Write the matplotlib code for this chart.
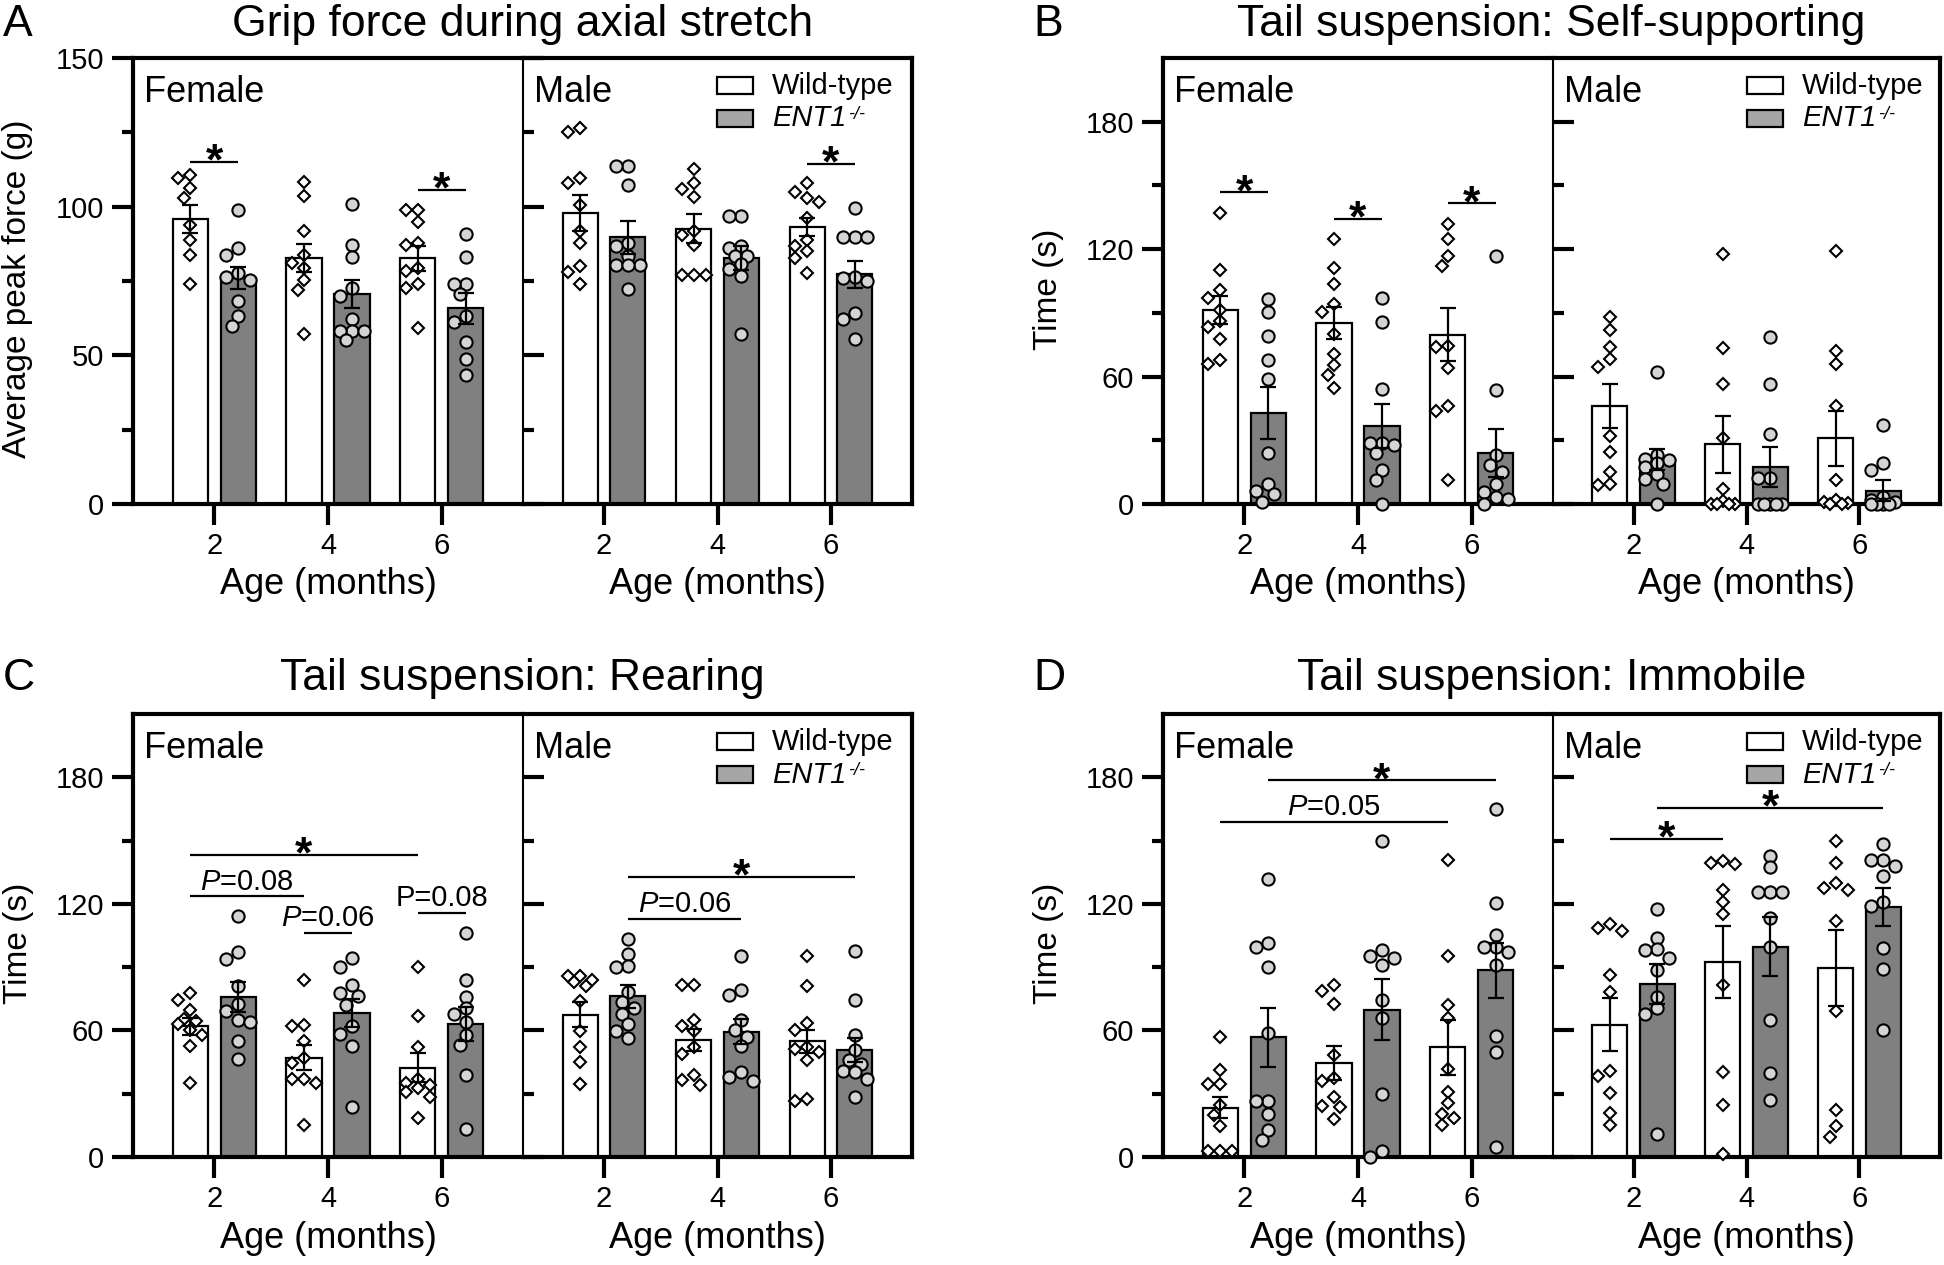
import numpy as np
import matplotlib
matplotlib.use('Agg')
import matplotlib.pyplot as plt
from matplotlib.patches import Rectangle

plt.rcParams['font.family'] = ['Liberation Sans', 'DejaVu Sans']
plt.rcParams['mathtext.fontset'] = 'custom'
plt.rcParams['mathtext.rm'] = 'Liberation Sans'
plt.rcParams['mathtext.it'] = 'Liberation Sans:italic'
plt.rcParams['mathtext.bf'] = 'Liberation Sans:bold'

# ---------------- data ----------------
ages = [2, 4, 6]
age_labels = ['2', '4', '6']
genotypes = ['Wild-type', 'ENT1']
sexes = ['Female', 'Male']

# Panel A: grip force (g)
A_F_WT_pts = [[110.6, 109.7, 106.4, 102.8, 93.9, 88.9, 83.7, 73.9],
              [108.3, 103.6, 91.9, 83.9, 81.1, 79.4, 75.2, 71.9, 57.2],
              [98.9, 98.9, 94.8, 87.8, 87.0, 79.4, 78.3, 73.9, 72.8, 59.2]]
A_F_WT_mean = [95.9, 82.6, 82.6]
A_F_WT_sem = [4.6, 4.7, 4.2]
A_F_KO_pts = [[98.9, 86.1, 83.9, 77.8, 76.3, 75.2, 68.3, 63.3, 60.0],
              [100.8, 87.0, 83.0, 72.8, 70.0, 62.2, 58.3, 58.3, 58.3, 55.2],
              [90.9, 83.0, 73.9, 73.9, 70.6, 63.3, 61.1, 54.4, 48.6, 43.3]]
A_F_KO_mean = [75.9, 70.6, 65.9]
A_F_KO_sem = [3.7, 4.6, 5.2]
A_M_WT_pts = [[126.3, 125.2, 109.7, 107.8, 100.6, 91.7, 87.8, 80.0, 78.1, 74.1],
              [112.6, 107.8, 105.9, 103.3, 91.7, 90.6, 87.2, 77.0, 77.0, 77.0],
              [107.8, 104.8, 102.8, 101.7, 96.1, 88.9, 86.7, 85.0, 82.8, 77.8]]
A_M_WT_mean = [97.8, 92.6, 93.1]
A_M_WT_sem = [6.1, 4.8, 3.0]
A_M_KO_pts = [[113.6, 113.6, 107.4, 87.8, 86.7, 83.3, 80.3, 80.3, 80.3, 72.2],
              [96.7, 96.7, 86.9, 86.1, 83.3, 83.3, 80.6, 79.0, 76.7, 57.2],
              [99.7, 89.7, 89.7, 89.7, 76.3, 75.9, 75.0, 64.4, 62.2, 55.6]]
A_M_KO_mean = [89.7, 82.8, 77.2]
A_M_KO_sem = [5.6, 4.0, 4.5]

# Panel B: self-supporting time (s)
B_F_WT_pts = [[136.8, 110.0, 100.8, 96.8, 91.3, 86.0, 83.3, 77.8, 67.8, 65.9],
              [124.6, 111.1, 103.5, 94.4, 90.5, 80.2, 70.6, 65.4, 60.6, 54.4],
              [132.0, 124.9, 116.7, 111.9, 74.6, 73.8, 64.0, 46.3, 43.7, 11.1]]
B_F_WT_mean = [91.3, 85.2, 79.7]
B_F_WT_sem = [6.6, 7.6, 12.5]
B_F_KO_pts = [[96.3, 90.2, 78.9, 67.9, 58.7, 23.8, 9.5, 6.3, 4.8, 0.8],
              [96.8, 85.7, 54.0, 28.9, 28.9, 27.8, 23.8, 15.9, 11.4, 0.0],
              [116.7, 53.5, 23.0, 18.3, 15.0, 9.5, 5.6, 3.2, 2.4, 0.0]]
B_F_KO_mean = [42.9, 36.8, 24.1]
B_F_KO_sem = [12.3, 10.2, 11.3]
B_M_WT_pts = [[88.1, 81.7, 73.8, 68.3, 64.6, 32.1, 24.6, 15.1, 9.5, 9.0],
              [117.5, 73.3, 56.3, 31.0, 7.1, 1.6, 0.0, 0.0, 0.0, 0.0],
              [119.0, 72.2, 65.9, 46.0, 11.1, 2.0, 1.0, 0.5, 0.0, 0.0]]
B_M_WT_mean = [46.3, 28.1, 31.0]
B_M_WT_sem = [10.3, 13.3, 13.0]
B_M_KO_pts = [[62.2, 23.0, 21.0, 20.5, 19.5, 17.5, 14.3, 12.0, 9.5, 0.0],
              [78.6, 56.7, 33.0, 12.4, 12.4, 0.0, 0.0, 0.0, 0.0, 0.0],
              [37.3, 19.4, 15.9, 3.5, 2.0, 1.0, 0.0, 0.0, 0.0, 0.0]]
B_M_KO_mean = [21.0, 17.5, 6.3]
B_M_KO_sem = [4.8, 9.3, 5.0]

# Panel C: rearing time (s)
C_F_WT_pts = [[77.8, 74.6, 69.8, 65.4, 64.3, 63.0, 60.3, 57.9, 52.7, 34.9],
              [83.8, 62.7, 61.9, 55.2, 47.0, 44.4, 36.8, 36.8, 35.2, 15.1],
              [90.2, 67.0, 52.1, 37.0, 34.9, 34.1, 32.5, 31.0, 28.3, 18.7]]
C_F_WT_mean = [61.9, 47.1, 42.4]
C_F_WT_sem = [4.0, 6.0, 7.0]
C_F_KO_pts = [[114.3, 97.1, 94.0, 81.0, 72.7, 69.0, 65.0, 63.8, 55.2, 46.5],
              [94.4, 90.2, 81.3, 77.8, 76.5, 72.2, 62.0, 58.4, 52.4, 23.8],
              [106.3, 83.8, 75.9, 70.6, 67.9, 64.0, 57.9, 53.2, 38.9, 13.5]]
C_F_KO_mean = [75.9, 68.3, 63.2]
C_F_KO_sem = [7.0, 6.5, 8.0]
C_M_WT_pts = [[85.7, 85.7, 84.1, 83.0, 81.0, 73.8, 59.5, 52.1, 44.8, 34.6],
              [81.6, 81.6, 64.8, 62.0, 59.5, 52.0, 48.9, 38.9, 36.5, 34.1],
              [95.2, 81.0, 63.5, 60.0, 52.0, 51.0, 50.0, 46.0, 27.5, 26.5]]
C_M_WT_mean = [67.5, 55.6, 54.8]
C_M_WT_sem = [6.0, 5.2, 5.5]
C_M_KO_pts = [[103.5, 96.0, 90.5, 90.2, 78.0, 73.3, 70.6, 67.9, 63.2, 59.5, 56.3],
              [95.2, 79.4, 77.0, 65.0, 60.3, 57.1, 52.4, 40.5, 38.0, 36.2],
              [97.6, 74.6, 58.0, 50.8, 46.0, 44.0, 41.0, 40.5, 37.0, 28.6]]
C_M_KO_mean = [76.2, 59.4, 50.8]
C_M_KO_sem = [5.5, 5.8, 5.8]

# Panel D: immobile time (s)
D_F_WT_pts = [[57.1, 41.3, 34.6, 34.6, 24.6, 19.8, 14.6, 3.0, 3.0, 3.0],
              [81.3, 78.6, 72.7, 48.4, 37.3, 36.2, 28.3, 24.1, 23.5, 17.8],
              [141.0, 95.2, 72.2, 65.9, 41.6, 31.0, 25.4, 20.3, 18.7, 15.0]]
D_F_WT_mean = [23.3, 44.4, 52.1]
D_F_WT_sem = [5.0, 8.0, 13.0]
D_F_KO_pts = [[132.0, 101.6, 99.5, 90.0, 59.0, 26.7, 26.7, 20.3, 13.0, 7.9],
              [150.0, 98.0, 95.2, 94.4, 90.8, 74.3, 65.9, 29.8, 2.9, 0.0],
              [165.0, 120.3, 105.2, 99.7, 99.7, 97.0, 90.8, 57.5, 50.0, 4.8]]
D_F_KO_mean = [56.8, 69.8, 88.6]
D_F_KO_sem = [14.0, 14.5, 13.0]
D_M_WT_pts = [[110.3, 108.7, 107.1, 86.5, 78.3, 40.9, 38.3, 30.4, 20.8, 15.2],
              [140.3, 139.2, 138.7, 126.5, 121.0, 115.0, 81.7, 40.4, 24.6, 1.6],
              [150.0, 139.2, 129.7, 127.3, 126.5, 111.9, 69.4, 22.2, 14.6, 9.5]]
D_M_WT_mean = [62.7, 92.4, 89.7]
D_M_WT_sem = [12.5, 17.0, 18.0]
D_M_KO_pts = [[117.5, 104.0, 98.4, 98.1, 94.4, 88.6, 75.9, 70.6, 68.0, 11.1],
              [142.9, 137.3, 125.7, 125.7, 125.7, 113.5, 99.7, 65.1, 40.0, 27.0],
              [148.4, 141.0, 140.6, 138.1, 133.0, 121.0, 119.2, 99.2, 89.2, 60.3]]
D_M_KO_mean = [82.2, 99.7, 118.4]
D_M_KO_sem = [9.5, 14.0, 9.0]

# significance annotations: (sex, (genotype, age), (genotype, age), y level, label)
A_annot = [('F', ('WT', 2), ('KO', 2), 115.0, '*'),
           ('F', ('WT', 6), ('KO', 6), 105.6, '*'),
           ('M', ('WT', 6), ('KO', 6), 114.4, '*')]
B_annot = [('F', ('WT', 2), ('KO', 2), 146.8, '*'),
           ('F', ('WT', 4), ('KO', 4), 134.4, '*'),
           ('F', ('WT', 6), ('KO', 6), 141.6, '*')]
C_annot = [('F', ('WT', 2), ('WT', 6), 143.3, '*'),
           ('F', ('WT', 2), ('WT', 4), 123.5, r'$\mathit{P}$=0.08'),
           ('F', ('WT', 4), ('KO', 4), 106.0, r'$\mathit{P}$=0.06'),
           ('F', ('WT', 6), ('KO', 6), 115.6, 'P=0.08'),
           ('M', ('KO', 2), ('KO', 6), 132.9, '*'),
           ('M', ('KO', 2), ('KO', 4), 113.0, r'$\mathit{P}$=0.06')]
D_annot = [('F', ('KO', 2), ('KO', 6), 178.6, '*'),
           ('F', ('WT', 2), ('WT', 6), 159.0, r'$\mathit{P}$=0.05'),
           ('M', ('WT', 2), ('WT', 4), 150.8, '*'),
           ('M', ('KO', 2), ('KO', 6), 165.4, '*')]

panels = [
    dict(letter='A', title='Grip force during axial stretch', ylabel='Average peak force (g)',
         ymax=150, major=[0, 50, 100, 150], minor=[25, 75, 125],
         cols=(133, 523, 912), rows=(58, 504), annot=A_annot,
         data={('F', 'WT'): (A_F_WT_pts, A_F_WT_mean, A_F_WT_sem),
               ('F', 'KO'): (A_F_KO_pts, A_F_KO_mean, A_F_KO_sem),
               ('M', 'WT'): (A_M_WT_pts, A_M_WT_mean, A_M_WT_sem),
               ('M', 'KO'): (A_M_KO_pts, A_M_KO_mean, A_M_KO_sem)}),
    dict(letter='B', title='Tail suspension: Self-supporting', ylabel='Time (s)',
         ymax=210, major=[0, 60, 120, 180], minor=[30, 90, 150],
         cols=(1163, 1553, 1940), rows=(58, 504), annot=B_annot,
         data={('F', 'WT'): (B_F_WT_pts, B_F_WT_mean, B_F_WT_sem),
               ('F', 'KO'): (B_F_KO_pts, B_F_KO_mean, B_F_KO_sem),
               ('M', 'WT'): (B_M_WT_pts, B_M_WT_mean, B_M_WT_sem),
               ('M', 'KO'): (B_M_KO_pts, B_M_KO_mean, B_M_KO_sem)}),
    dict(letter='C', title='Tail suspension: Rearing', ylabel='Time (s)',
         ymax=210, major=[0, 60, 120, 180], minor=[30, 90, 150],
         cols=(133, 523, 912), rows=(714, 1157), annot=C_annot,
         data={('F', 'WT'): (C_F_WT_pts, C_F_WT_mean, C_F_WT_sem),
               ('F', 'KO'): (C_F_KO_pts, C_F_KO_mean, C_F_KO_sem),
               ('M', 'WT'): (C_M_WT_pts, C_M_WT_mean, C_M_WT_sem),
               ('M', 'KO'): (C_M_KO_pts, C_M_KO_mean, C_M_KO_sem)}),
    dict(letter='D', title='Tail suspension: Immobile', ylabel='Time (s)',
         ymax=210, major=[0, 60, 120, 180], minor=[30, 90, 150],
         cols=(1163, 1553, 1940), rows=(714, 1157), annot=D_annot,
         data={('F', 'WT'): (D_F_WT_pts, D_F_WT_mean, D_F_WT_sem),
               ('F', 'KO'): (D_F_KO_pts, D_F_KO_mean, D_F_KO_sem),
               ('M', 'WT'): (D_M_WT_pts, D_M_WT_mean, D_M_WT_sem),
               ('M', 'KO'): (D_M_KO_pts, D_M_KO_mean, D_M_KO_sem)}),
]

# ---------------- styling ----------------
W, H = 1944, 1265
OFF = 0.42
BW = 0.62
XLIM = (0.57, 7.43)
WT_FACE = 'white'
KO_FACE = '#808080'
KO_DOT = '#d4d4d4'
KO_LEG = '#a6a6a6'
THICK = 3.0
THIN = 1.5

fig = plt.figure(figsize=(W / 100, H / 100), dpi=100)


def add_ax(x0, x1, ytop, ybot):
    return fig.add_axes([x0 / W, 1 - ybot / H, (x1 - x0) / W, (ybot - ytop) / H])


def swarm_offsets(ax, xc, vals, diam_px=11.0, step_px=6.0, max_px=13.0):
    """Deterministic beeswarm: returns x offsets (data units)."""
    tr = ax.transData
    ppx = tr.transform((1, 0))[0] - tr.transform((0, 0))[0]
    ypx = [tr.transform((xc, v))[1] for v in vals]
    n = int(max_px // step_px)
    cands = sorted({k * step_px for k in range(-n, n + 1)}, key=lambda c: (abs(c), c))
    placed = []
    res = [0.0] * len(vals)
    for i in np.argsort(-np.asarray(vals), kind='stable'):
        best, best_d = None, -1.0
        for c in cands:
            d = min([np.hypot(c - px, ypx[i] - py) for px, py in placed] + [1e9])
            if d >= diam_px:
                best = c
                break
            if d > best_d + 1e-9:
                best, best_d = c, d
        placed.append((best, ypx[i]))
        res[i] = best / ppx
    return res


def xpos(geno, age):
    return age - OFF if geno == 'WT' else age + OFF


for P in panels:
    x0, xm, x1 = P['cols']
    yt, yb = P['rows']
    axF = add_ax(x0, xm, yt, yb)
    axM = add_ax(xm, x1, yt, yb)
    axes = {'F': axF, 'M': axM}
    for sex, ax in axes.items():
        ax.set_xlim(*XLIM)
        ax.set_ylim(0, P['ymax'])
        ax.set_xticks(ages)
        ax.set_xticklabels(age_labels)
        ax.set_yticks(P['major'])
        ax.set_yticks(P['minor'], minor=True)
        ax.tick_params(axis='x', which='major', direction='out', length=15, width=THICK,
                       labelsize=21, pad=5)
        for s in ['top', 'bottom']:
            ax.spines[s].set_linewidth(THICK)
            ax.spines[s].set_capstyle('projecting')
        if sex == 'F':
            ax.spines['left'].set_linewidth(THICK)
            ax.spines['left'].set_capstyle('projecting')
            ax.spines['right'].set_visible(False)
            ax.tick_params(axis='y', which='major', direction='out', length=15, width=THICK,
                           labelsize=21, pad=6)
            ax.tick_params(axis='y', which='minor', direction='out', length=8, width=THICK)
        else:
            ax.spines['right'].set_linewidth(THICK)
            ax.spines['right'].set_capstyle('projecting')
            ax.spines['left'].set_linewidth(THIN)
            ax.tick_params(axis='y', which='major', direction='in', length=15, width=THICK,
                           labelleft=False)
            ax.tick_params(axis='y', which='minor', direction='in', length=8, width=THICK)

        for geno in ['WT', 'KO']:
            pts, mean, sem = P['data'][(sex, geno)]
            xs = [xpos(geno, a) for a in ages]
            ax.bar(xs, mean, width=BW, color=WT_FACE if geno == 'WT' else KO_FACE,
                   edgecolor='black', linewidth=1.6, zorder=2)
            for xc, vals in zip(xs, pts):
                offs = swarm_offsets(ax, xc, vals)
                if geno == 'WT':
                    ax.plot([xc + o for o in offs], vals, ls='none', marker='D', ms=6,
                            mfc='white', mec='black', mew=1.5, zorder=3, clip_on=False)
                else:
                    ax.plot([xc + o for o in offs], vals, ls='none', marker='o', ms=8.8,
                            mfc=KO_DOT, mec='black', mew=1.5, zorder=3, clip_on=False)
            ax.errorbar(xs, mean, yerr=sem, fmt='none', ecolor='black', elinewidth=1.6,
                        capsize=5.5, capthick=1.6, zorder=4)

        # sex label
        wpx, hpx = (xm - x0) if sex == 'F' else (x1 - xm), (yb - yt)
        ax.text(11 / wpx, 1 - 44 / hpx, 'Female' if sex == 'F' else 'Male',
                transform=ax.transAxes, ha='left', va='baseline', fontsize=26)

        # x label
        cx = (x0 + xm) / 2 if sex == 'F' else (xm + x1) / 2
        fig.text(cx / W, 1 - (yb + 81) / H, 'Age (months)', ha='center', va='center',
                 fontsize=26)

    # legend in male axes
    wpx, hpx = (x1 - xm), (yb - yt)
    axM.add_patch(Rectangle((194 / wpx, 1 - 36 / hpx), 36 / wpx, 17 / hpx,
                            transform=axM.transAxes, fc=WT_FACE, ec='black', lw=1.6,
                            clip_on=False, zorder=6))
    axM.add_patch(Rectangle((194 / wpx, 1 - 69 / hpx), 36 / wpx, 17 / hpx,
                            transform=axM.transAxes, fc=KO_LEG, ec='black', lw=1.6,
                            clip_on=False, zorder=6))
    axM.text(249 / wpx, 1 - 27.5 / hpx, genotypes[0], transform=axM.transAxes,
             ha='left', va='center', fontsize=21)
    t_ko = axM.text(249 / wpx, 1 - 60.5 / hpx, genotypes[1], transform=axM.transAxes,
                    ha='left', va='center', fontsize=21, style='italic')
    axM.annotate('-/-', xy=(1.0, 1.0), xycoords=t_ko, xytext=(1, -1),
                 textcoords='offset points', ha='left', va='top', fontsize=13,
                 style='italic')

    # significance annotations
    for sex, a, b, y, lab in P['annot']:
        ax = axes[sex]
        xa, xb = xpos(*a), xpos(*b)
        ax.plot([xa, xb], [y, y], color='black', lw=1.6, solid_capstyle='butt', zorder=5)
        xc = (xa + xb) / 2
        if lab == '*':
            ax.annotate(r'$\mathbf{*}$', xy=(xc, y), xytext=(0, -8.5),
                        textcoords='offset points', ha='center', va='baseline',
                        fontsize=32, zorder=6)
        else:
            ax.annotate(lab, xy=(xc, y), xytext=(0, 5), textcoords='offset points',
                        ha='center', va='baseline', fontsize=21, zorder=6)

    # title, panel letter, y label
    base = 36 if yt < 300 else 690
    fig.text(((x0 + x1) / 2) / W, 1 - base / H, P['title'], ha='center', va='baseline',
             fontsize=32)
    fig.text((x0 - 130) / W, 1 - base / H, P['letter'], ha='left', va='baseline',
             fontsize=32)
    fig.text((x0 - 115) / W, 1 - ((yt + yb) / 2 + 8) / H, P['ylabel'], rotation=90,
             ha='center', va='center', fontsize=24)

fig.savefig('out.png', dpi=100, facecolor='white')
